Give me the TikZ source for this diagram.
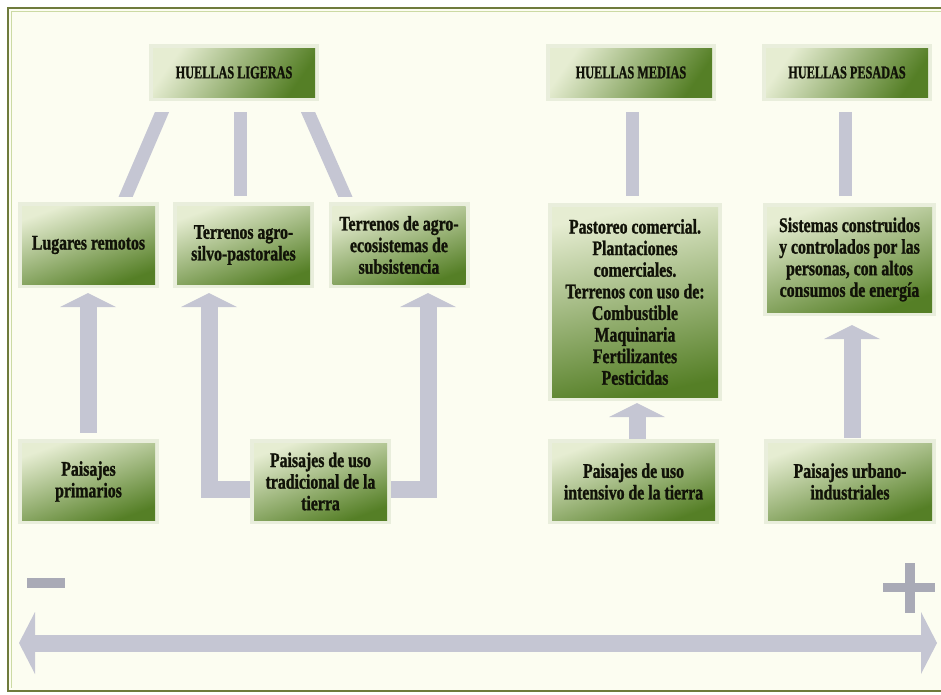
\documentclass[tikz,border=0pt]{standalone}
\usepackage{fontspec}
\newfontfamily\boxfont{Liberation Serif}[FakeStretch=0.76, BoldFeatures={FakeBold=1.2}]
\newfontfamily\headfont{Liberation Serif}[FakeStretch=0.68, BoldFeatures={FakeBold=1.2}]
\usetikzlibrary{arrows.meta,calc}

\definecolor{paper}{HTML}{FCFDF1}
\definecolor{framec}{HTML}{6F7B3C}
\definecolor{framein}{HTML}{CCDAA4}
\definecolor{conn}{HTML}{C5C6D3}
\definecolor{signc}{HTML}{A9AAB6}
\definecolor{ink}{HTML}{111208}
\definecolor{boxtop}{HTML}{E6EDD2}
\definecolor{boxmid}{HTML}{A6C274}
\definecolor{boxbot}{HTML}{557F26}
\definecolor{halo}{HTML}{E9EEDC}

\pgfdeclarelayer{bottom}
\pgfdeclarelayer{background}
\pgfsetlayers{bottom,background,main}

\tikzset{
  greenbox/.style={rectangle, inner sep=0pt, align=center, text=ink,
    font=\boxfont\bfseries\fontsize{20.8}{21.6}\selectfont,
    top color=boxtop, middle color=boxmid, bottom color=boxbot,
    shading angle=20,
    preaction={draw=halo, line width=8pt}},
  headbox/.style={greenbox, font=\headfont\bfseries\fontsize{18}{18}\selectfont,
    shading angle=55, minimum width=162pt, minimum height=49pt},
  lowbox/.style={greenbox, minimum height=77pt},
  bar/.style={draw=conn, line width=13pt},
  uparrow/.style={draw=conn, line width=17pt,
    -{Triangle[width=56pt,length=14pt,line width=0pt]}},
  scalearrow/.style={draw=conn, line width=17pt,
    {Triangle[width=62pt,length=16pt,line width=0pt]}-{Triangle[width=62pt,length=16pt,line width=0pt]}}
}

\begin{document}
\begin{tikzpicture}[x=1pt,y=-1pt]
\useasboundingbox (0,0) rectangle (941,694);

% page and frame
\begin{pgfonlayer}{bottom}
  \fill[white] (0,0) rectangle (941,694);
  \fill[paper] (8,8) rectangle (941,691);
  \draw[framein, line width=1pt] (941,11.5) -- (11.5,11.5) -- (11.5,688);
  \draw[framec, line width=2.5pt] (941,8) -- (8,8) -- (8,691) -- (941,691);
\end{pgfonlayer}

% footprint headers
\node[headbox] (hl) at (234,72.5) {HUELLAS LIGERAS};
\node[headbox] (hm) at (631,72.5) {HUELLAS MEDIAS};
\node[headbox] (hp) at (847,72.5) {HUELLAS PESADAS};

% land use types
\node[greenbox, minimum width=133pt, minimum height=78pt] (lr) at (88.5,245) {Lugares remotos};
\node[greenbox, minimum width=133pt, minimum height=78pt] (ts) at (243.5,245) {Terrenos agro-\\silvo-pastorales};
\node[greenbox, minimum width=133pt, minimum height=78pt] (te) at (399,245) {Terrenos de agro-\\ecosistemas de\\subsistencia};
\node[greenbox, minimum width=166pt, minimum height=190pt, shading angle=12] (pc) at (635,302)
  {Pastoreo comercial.\\Plantaciones\\comerciales.\\Terrenos con uso de:\\Combustible\\Maquinaria\\Fertilizantes\\Pesticidas};
\node[greenbox, minimum width=165pt, minimum height=105pt] (sc) at (849.5,259.5)
  {Sistemas construidos\\y controlados por las\\personas, con altos\\consumos de energía};

% landscapes
\node[lowbox, minimum width=133pt] (pp) at (88.5,481.5) {Paisajes\\primarios};
\node[lowbox, minimum width=133pt] (pt) at (320.5,481.5) {Paisajes de uso\\tradicional de la\\tierra};
\node[lowbox, minimum width=163pt] (pi) at (633.5,481.5) {Paisajes de uso\\intensivo de la tierra};
\node[lowbox, minimum width=164pt] (pu) at (850,481.5) {Paisajes urbano-\\industriales};

% connector end points
\coordinate (d1a) at (162,112);  \coordinate (d1b) at (126,196);
\coordinate (d2a) at (240,112);  \coordinate (d2b) at (240,196);
\coordinate (d3a) at (308,112);  \coordinate (d3b) at (345,196);
\coordinate (m1a) at (632,112);  \coordinate (m1b) at (632,196);
\coordinate (p1a) at (845,112);  \coordinate (p1b) at (845,196);
\coordinate (t1) at (88,293);
\coordinate (t2) at (209,293);
\coordinate (t3) at (428,293);
\coordinate (s4) at (637,440);   \coordinate (t4) at (637,403);
\coordinate (s5) at (852,438);   \coordinate (t5) at (852,325);
\coordinate (sl) at (19,643);    \coordinate (sr) at (937,643);

\begin{pgfonlayer}{background}
  % links from each footprint to its land uses
  \begin{scope}
    \clip (0,112) rectangle (941,196);
    \draw[bar] ($(d1b)!1.15!(d1a)$) -- ($(d1a)!1.15!(d1b)$);
    \draw[bar] ($(d3b)!1.15!(d3a)$) -- ($(d3a)!1.15!(d3b)$);
  \end{scope}
  \draw[bar] (d2a) -- (d2b);
  \draw[bar] (m1a) -- (m1b);
  \draw[bar] (p1a) -- (p1b);

  % landscapes leading to land uses
  \draw[uparrow] ($(pp.north)+(-0.5,-10)$) -- (t1);
  \draw[uparrow] ($(pt.west)+(12,7.5)$) -| (t2);
  \draw[uparrow] ($(pt.east)+(-12,7.5)$) -| (t3);
  \draw[uparrow] (s4) -- (t4);
  \draw[uparrow] (s5) -- (t5);

  % intensity scale
  \draw[scalearrow] (sl) -- (sr);
\end{pgfonlayer}

% minus and plus signs
\fill[signc] (27,578) rectangle (65,588);
\fill[signc] (883,583) rectangle (935,592);
\fill[signc] (905,563) rectangle (915,613);
\end{tikzpicture}
\end{document}
